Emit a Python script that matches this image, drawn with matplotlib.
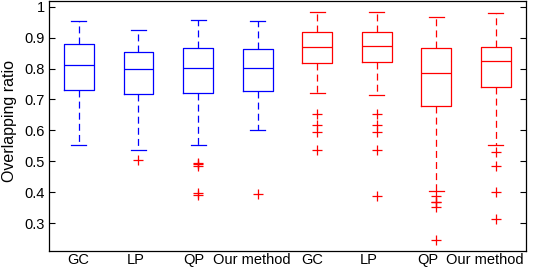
"""Boxplot of overlapping ratio for the four methods, two settings."""

import matplotlib
matplotlib.use("Agg")
import matplotlib.pyplot as plt
import matplotlib.transforms as mtransforms

methods = ["GC", "LP", "QP", "Our method", "GC", "LP", "QP", "Our method"]
colors = ["blue"] * 4 + ["red"] * 4

whislo = [0.554, 0.538, 0.554, 0.602, 0.722, 0.715, 0.403, 0.554]
q1 = [0.731, 0.718, 0.722, 0.729, 0.819, 0.822, 0.680, 0.741]
med = [0.812, 0.798, 0.802, 0.802, 0.870, 0.874, 0.787, 0.825]
q3 = [0.880, 0.854, 0.867, 0.864, 0.917, 0.917, 0.866, 0.870]
whishi = [0.954, 0.925, 0.957, 0.954, 0.982, 0.982, 0.968, 0.980]
outliers = [
    [],
    [0.505],
    [0.496, 0.490, 0.484, 0.399, 0.391],
    [0.394],
    [0.654, 0.618, 0.596, 0.535],
    [0.654, 0.618, 0.596, 0.535, 0.389],
    [0.388, 0.370, 0.367, 0.352, 0.247],
    [0.529, 0.485, 0.401, 0.315],
]

plt.rcParams["font.family"] = ["Liberation Sans", "DejaVu Sans"]
plt.rcParams["lines.scale_dashes"] = False

fig = plt.figure(figsize=(5.34, 2.69), dpi=100)
ax = fig.add_axes([0.092, 0.067, 0.8925, 0.931])

stats = []
for i in range(len(methods)):
    stats.append(dict(med=med[i], q1=q1[i], q3=q3[i], whislo=whislo[i],
                      whishi=whishi[i], fliers=outliers[i], label=methods[i]))

lw = 0.9
for i, s in enumerate(stats):
    c = colors[i]
    ax.bxp([s], positions=[i + 1], widths=0.5, showfliers=True,
           boxprops=dict(color=c, linewidth=lw),
           medianprops=dict(color=c, linewidth=lw),
           whiskerprops=dict(color=c, linewidth=lw, linestyle=(0, (5, 3))),
           capprops=dict(color=c, linewidth=lw),
           capwidths=0.25,
           flierprops=dict(marker="+", markeredgecolor="red", markersize=7,
                           markeredgewidth=lw, linestyle="none"),
           manage_ticks=False)

ax.set_xlim(0.5, 8.5)
ax.set_ylim(0.21, 1.02)
ax.set_xticks(range(1, 9))
ax.set_xticklabels(methods, fontsize=10.5)
ax.set_yticks([0.3, 0.4, 0.5, 0.6, 0.7, 0.8, 0.9, 1.0])
ax.set_yticklabels(["0.3", "0.4", "0.5", "0.6", "0.7", "0.8", "0.9", "1"], fontsize=10.5)
ax.tick_params(axis="x", length=0, pad=1.5)
ax.tick_params(axis="y", direction="in", length=4, right=True, width=0.8, pad=3)
ax.set_ylabel("Overlapping ratio", fontsize=11.5)
ax.yaxis.set_label_coords(-0.068, 0.52)
for sp in ax.spines.values():
    sp.set_linewidth(0.9)

# the labels sit a bit left of the boxes, as in the original
shifts = [-1, -3, -4, -6, -5, -8, -9, -11.5]
for lab, dx in zip(ax.get_xticklabels(), shifts):
    lab.set_transform(lab.get_transform() +
                      mtransforms.ScaledTranslation(dx / 100, 0, fig.dpi_scale_trans))

fig.savefig("out.png", dpi=100)
